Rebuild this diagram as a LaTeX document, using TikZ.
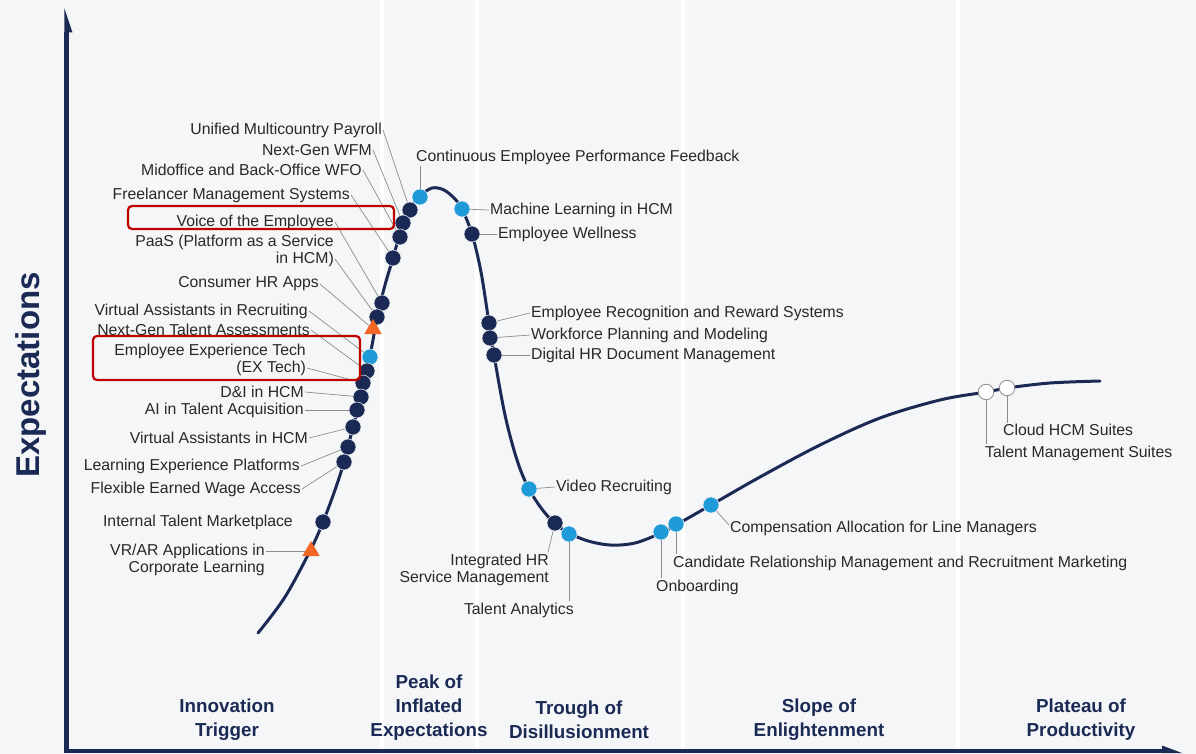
\documentclass[tikz,border=0pt]{standalone}
\usepackage{fontspec}
\setmainfont{Liberation Sans}
\usetikzlibrary{calc,shapes.geometric}
\definecolor{bg}{RGB}{245,246,248}
\definecolor{navy}{RGB}{27,42,85}
\definecolor{lblue}{RGB}{30,155,215}
\definecolor{orng}{RGB}{242,101,34}
\definecolor{redbox}{RGB}{192,0,0}
\definecolor{txt}{RGB}{40,40,40}
\definecolor{leadc}{RGB}{140,140,140}
\begin{document}
\begin{tikzpicture}[x=1pt,y=-1pt,
  dk/.style={circle,fill=navy,draw=bg,line width=0.5pt,minimum size=16pt,inner sep=0pt},
  bl/.style={circle,fill=lblue,draw=bg,line width=0.5pt,minimum size=16pt,inner sep=0pt},
  wt/.style={circle,fill=white,draw=leadc,line width=0.8pt,minimum size=15.5pt,inner sep=0pt},
  tri/.style={regular polygon,regular polygon sides=3,fill=orng,minimum size=20pt,inner sep=0pt},
  lbl/.style={font=\fontsize{15.8}{17}\selectfont,text=txt,inner sep=1pt},
  lft/.style={lbl,anchor=east},
  rgt/.style={lbl,anchor=west},
  lead/.style={draw=leadc,line width=0.7pt},
  phase/.style={font=\fontsize{18.8}{24}\selectfont\bfseries,text=navy,align=center},
  sep/.style={draw=white,line width=4pt},
  hilite/.style={draw=redbox,line width=2.2pt,rounded corners=4pt}
  ]
\useasboundingbox (0,0) rectangle (1196,754);
\fill[bg] (0,0) rectangle (1196,754);
% phase separators
\foreach \x in {382,477,683,958} \draw[sep] (\x,0) -- (\x,749);
% axes
\fill[navy] (64.3,750) rectangle (68.7,32);
\fill[navy] (64.3,8) -- (72.5,32.5) -- (64.3,32.5) -- cycle;
\fill[navy] (64.3,749) rectangle (1163,753);
\fill[navy] (1182,753) -- (1162,745.5) -- (1162,753) -- cycle;
\node[rotate=90,font=\fontsize{33}{36}\selectfont\bfseries,text=navy] (ylab) at (31,375) {Expectations};
% hype curve
\draw[navy,line width=3pt,line cap=round] plot[smooth,tension=0.55] coordinates {
 (258,633) (285,597) (311,549) (323,522) (335,490) (344,462) (353,427) (361,397)
 (367,371) (373,340) (377,317) (385,285) (393,258) (403,223) (410,208) (420,196)
 (432,188) (444,190) (455,199) (462,209) (472,234) (481,272) (489,323) (494,355)
 (505,415) (517,460) (529,489) (545,513) (562,529) (585,540) (610,545) (635,543)
 (661,533) (676,525) (711,505) (760,477) (820,445) (880,418) (940,400) (986,392)
 (1007,388) (1050,383) (1100,381)};
% markers
\node[dk] (D1) at (410,210) {};
\node[dk] (D2) at (403,223) {};
\node[dk] (D3) at (400,237) {};
\node[dk] (D4) at (393,258) {};
\node[dk] (D5) at (382,303) {};
\node[dk] (D6) at (377,317) {};
\node[tri] (T1) at (373,329) {};
\node[bl] (B1) at (370,357) {};
\node[dk] (D7) at (367,371) {};
\node[dk] (D8) at (363,383) {};
\node[dk] (D9) at (361,397) {};
\node[dk] (D10) at (357,410) {};
\node[dk] (D11) at (353,427) {};
\node[dk] (D12) at (348,447) {};
\node[dk] (D13) at (344,462) {};
\node[dk] (D14) at (323,522) {};
\node[tri] (T2) at (311,551) {};
\node[bl] (B2) at (420,197) {};
\node[bl] (B3) at (462,209) {};
\node[dk] (D15) at (472,234) {};
\node[dk] (D16) at (489,323) {};
\node[dk] (D17) at (490,338) {};
\node[dk] (D18) at (494,355) {};
\node[bl] (B4) at (529,489) {};
\node[dk] (D19) at (555,523) {};
\node[bl] (B5) at (569,534) {};
\node[bl] (B6) at (661,532) {};
\node[bl] (B7) at (676,524) {};
\node[bl] (B8) at (711,505) {};
\node[wt] (W1) at (986,392) {};
\node[wt] (W2) at (1007,388) {};
% left labels
\node[lft] (l1) at (383,130) {Unified Multicountry Payroll};
\node[lft] (l2) at (373,150) {Next-Gen WFM};
\node[lft] (l3) at (363,170) {Midoffice and Back-Office WFO};
\node[lft] (l4) at (351,195) {Freelancer Management Systems};
\node[lft] (l5) at (335,222) {Voice of the Employee};
\node[lft] (l6a) at (335,242) {PaaS (Platform as a Service};
\node[lft] (l6) at (335,259) {in HCM)};
\node[lft] (l7) at (320,284) {Consumer HR Apps};
\node[lft] (l8) at (309,311) {Virtual Assistants in Recruiting};
\node[lft] (l9) at (311,330) {Next-Gen Talent Assessments};
\node[lft] (l10a) at (307,351) {Employee Experience Tech};
\node[lft] (l10) at (307,368) {(EX Tech)};
\node[lft] (l11) at (305,392) {D\&I in HCM};
\node[lft] (l12) at (305,410) {AI in Talent Acquisition};
\node[lft] (l13) at (309,438) {Virtual Assistants in HCM};
\node[lft] (l14) at (301,466) {Learning Experience Platforms};
\node[lft] (l15) at (302,489) {Flexible Earned Wage Access};
\node[lft] (l16) at (294,522) {Internal Talent Marketplace};
\node[lft] (l17) at (266,551) {VR/AR Applications in};
\node[lft] (l17b) at (266,568) {Corporate Learning};
% left leaders
\draw[lead] (l1.east) -- (D1);
\draw[lead] (l2.east) -- (D2);
\draw[lead] (l3.east) -- (D3);
\draw[lead] (l4.east) -- (D4);
\draw[lead] (l5.east) -- (D5);
\draw[lead] (l6.east) -- (D6);
\draw[lead] (l7.east) -- (T1);
\draw[lead] (l8.east) -- (B1);
\draw[lead] (l9.east) -- (D7);
\draw[lead] (l10.east) -- (D8);
\draw[lead] (l11.east) -- (D9);
\draw[lead] (l12.east) -- (D10);
\draw[lead] (l13.east) -- (D11);
\draw[lead] (l14.east) -- (D12);
\draw[lead] (l15.east) -- (D13);
\draw[lead] (l17.east) -- (T2);
% right labels
\node[rgt] (r1) at (415,157) {Continuous Employee Performance Feedback};
\node[rgt] (r2) at (489,210) {Machine Learning in HCM};
\node[rgt] (r3) at (497,234) {Employee Wellness};
\node[rgt] (r4) at (530,313) {Employee Recognition and Reward Systems};
\node[rgt] (r5) at (530,335) {Workforce Planning and Modeling};
\node[rgt] (r6) at (530,355) {Digital HR Document Management};
\node[rgt] (r7) at (555,487) {Video Recruiting};
\node[lft] (r8) at (550,561) {Integrated HR};
\node[lft] (r8b) at (550,578) {Service Management};
\node[lft] (r9) at (575,610) {Talent Analytics};
\node[rgt] (r10) at (655,587) {Onboarding};
\node[rgt] (r11) at (672,563) {Candidate Relationship Management and Recruitment Marketing};
\node[rgt] (r12) at (729,528) {Compensation Allocation for Line Managers};
\node[rgt] (r13) at (1002,430) {Cloud HCM Suites};
\node[rgt] (r14) at (984,453) {Talent Management Suites};
% right leaders
\draw[lead] (B2) -- (B2 |- r1.south);
\draw[lead] (B3) -- (r2.west);
\draw[lead] (D15) -- (r3.west);
\draw[lead] (D16) -- (r4.west);
\draw[lead] (D17) -- (r5.west);
\draw[lead] (D18) -- (r6.west);
\draw[lead] (B4) -- (r7.west);
\draw[lead] (D19) -- ([xshift=-2pt]r8.north east);
\draw[lead] (B5) -- (B5 |- r9.north);
\draw[lead] (B6) -- (B6 |- r10.north);
\draw[lead] (B7) -- (B7 |- r11.north);
\draw[lead] (B8) -- ([yshift=3pt]r12.west);
\draw[lead] (W2) -- (W2 |- r13.north);
\draw[lead] (W1) -- (W1 |- r14.north);
% highlight boxes
\draw[hilite] (128,206) rectangle (394,229);
\draw[hilite] (93,336) rectangle (360,380);
% phase labels
\node[phase] (p1) at (227,720) {Innovation\\Trigger};
\node[phase] (p2) at (429,708) {Peak of\\Inflated\\Expectations};
\node[phase] (p3) at (579,720) {Trough of\\Disillusionment};
\node[phase] (p4) at (819,720) {Slope of\\Enlightenment};
\node[phase] (p5) at (1081,720) {Plateau of\\Productivity};
\end{tikzpicture}
\end{document}
